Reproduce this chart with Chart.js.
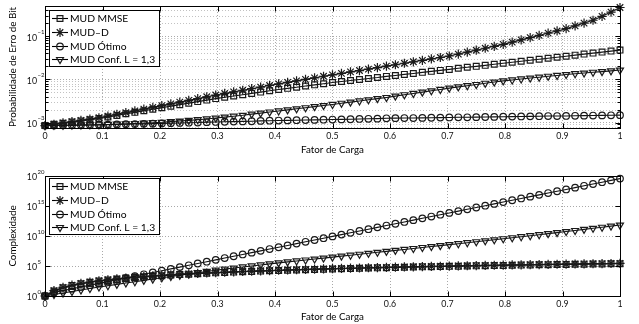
<!DOCTYPE html>
<html><head><meta charset="utf-8">
<script src="https://cdn.jsdelivr.net/npm/chart.js@4/dist/chart.umd.min.js"></script>
<style>
html,body{margin:0;padding:0;background:#fff;}
body{width:639px;height:324px;position:relative;overflow:hidden;}
#c1{position:absolute;left:0;top:0;}
#c2{position:absolute;left:0;top:160px;}
</style></head><body>
<canvas id="c1" width="639" height="160"></canvas>
<canvas id="c2" width="639" height="164"></canvas>
<script>
// ---------------- data ----------------
const loadFactor = [0, 0.0156, 0.0313, 0.0469, 0.0625, 0.0781, 0.0938, 0.1094, 0.125, 0.1406, 0.1563, 0.1719, 0.1875, 0.2031, 0.2188, 0.2344, 0.25, 0.2656, 0.2813, 0.2969, 0.3125, 0.3281, 0.3438, 0.3594, 0.375, 0.3906, 0.4063, 0.4219, 0.4375, 0.4531, 0.4688, 0.4844, 0.5, 0.5156, 0.5313, 0.5469, 0.5625, 0.5781, 0.5938, 0.6094, 0.625, 0.6406, 0.6563, 0.6719, 0.6875, 0.7031, 0.7188, 0.7344, 0.75, 0.7656, 0.7813, 0.7969, 0.8125, 0.8281, 0.8438, 0.8594, 0.875, 0.8906, 0.9063, 0.9219, 0.9375, 0.9531, 0.9688, 0.9844, 1];

const seriesNames = ['MUD MMSE', 'MUD\u2013D', 'MUD \u00D3timo', 'MUD Conf. L = 1,3'];

// Probabilidade de Erro de Bit (top)
const berMMSE = [8.51e-4, 9.06e-4, 9.64e-4, 1.03e-3, 1.09e-3, 1.16e-3, 1.24e-3, 1.34e-3, 1.46e-3, 1.59e-3, 1.72e-3, 1.87e-3, 2.03e-3, 2.21e-3, 2.39e-3, 2.59e-3, 2.81e-3, 3.05e-3, 3.30e-3, 3.58e-3, 3.84e-3, 4.11e-3, 4.41e-3, 4.72e-3, 5.06e-3, 5.42e-3, 5.81e-3, 6.18e-3, 6.58e-3, 7.00e-3, 7.45e-3, 7.93e-3, 8.43e-3, 8.89e-3, 9.40e-3, 9.91e-3, 1.05e-2, 1.10e-2, 1.17e-2, 1.23e-2, 1.30e-2, 1.37e-2, 1.45e-2, 1.53e-2, 1.61e-2, 1.70e-2, 1.80e-2, 1.90e-2, 2.00e-2, 2.11e-2, 2.23e-2, 2.36e-2, 2.49e-2, 2.62e-2, 2.77e-2, 2.92e-2, 3.09e-2, 3.26e-2, 3.44e-2, 3.63e-2, 3.84e-2, 4.05e-2, 4.28e-2, 4.51e-2, 4.76e-2];
const berMUDD = [8.51e-4, 9.12e-4, 9.77e-4, 1.05e-3, 1.12e-3, 1.20e-3, 1.29e-3, 1.41e-3, 1.55e-3, 1.70e-3, 1.86e-3, 2.04e-3, 2.24e-3, 2.46e-3, 2.70e-3, 2.97e-3, 3.26e-3, 3.58e-3, 3.94e-3, 4.33e-3, 4.71e-3, 5.13e-3, 5.59e-3, 6.08e-3, 6.62e-3, 7.21e-3, 7.85e-3, 8.51e-3, 9.23e-3, 1.00e-2, 1.08e-2, 1.18e-2, 1.27e-2, 1.37e-2, 1.49e-2, 1.60e-2, 1.73e-2, 1.87e-2, 2.02e-2, 2.18e-2, 2.36e-2, 2.55e-2, 2.75e-2, 2.97e-2, 3.21e-2, 3.47e-2, 3.85e-2, 4.27e-2, 4.73e-2, 5.25e-2, 5.82e-2, 6.46e-2, 7.28e-2, 8.20e-2, 9.25e-2, 0.104, 0.118, 0.132, 0.149, 0.173, 0.201, 0.234, 0.288, 0.362, 0.461];
const berOtimo = [8.51e-4, 8.55e-4, 8.61e-4, 8.67e-4, 8.71e-4, 8.77e-4, 8.83e-4, 8.91e-4, 8.99e-4, 9.10e-4, 9.20e-4, 9.31e-4, 9.42e-4, 9.53e-4, 9.64e-4, 9.77e-4, 9.91e-4, 1.00e-3, 1.02e-3, 1.03e-3, 1.04e-3, 1.05e-3, 1.06e-3, 1.07e-3, 1.09e-3, 1.10e-3, 1.11e-3, 1.12e-3, 1.13e-3, 1.14e-3, 1.15e-3, 1.16e-3, 1.17e-3, 1.18e-3, 1.19e-3, 1.21e-3, 1.22e-3, 1.23e-3, 1.25e-3, 1.26e-3, 1.27e-3, 1.27e-3, 1.28e-3, 1.29e-3, 1.30e-3, 1.31e-3, 1.32e-3, 1.32e-3, 1.33e-3, 1.34e-3, 1.35e-3, 1.36e-3, 1.37e-3, 1.38e-3, 1.39e-3, 1.40e-3, 1.41e-3, 1.41e-3, 1.42e-3, 1.43e-3, 1.44e-3, 1.45e-3, 1.46e-3, 1.47e-3, 1.48e-3];
const berConf = [8.51e-4, 8.57e-4, 8.63e-4, 8.69e-4, 8.75e-4, 8.81e-4, 8.87e-4, 9.02e-4, 9.16e-4, 9.31e-4, 9.46e-4, 9.68e-4, 9.91e-4, 1.01e-3, 1.05e-3, 1.08e-3, 1.12e-3, 1.16e-3, 1.21e-3, 1.27e-3, 1.33e-3, 1.40e-3, 1.47e-3, 1.56e-3, 1.65e-3, 1.75e-3, 1.85e-3, 1.96e-3, 2.08e-3, 2.20e-3, 2.33e-3, 2.47e-3, 2.62e-3, 2.79e-3, 2.97e-3, 3.16e-3, 3.36e-3, 3.57e-3, 3.80e-3, 4.08e-3, 4.39e-3, 4.71e-3, 5.06e-3, 5.43e-3, 5.83e-3, 6.27e-3, 6.68e-3, 7.13e-3, 7.60e-3, 8.11e-3, 8.65e-3, 9.23e-3, 9.68e-3, 1.02e-2, 1.07e-2, 1.12e-2, 1.18e-2, 1.23e-2, 1.29e-2, 1.35e-2, 1.40e-2, 1.46e-2, 1.51e-2, 1.57e-2, 1.64e-2];

// Complexidade (bottom)
const cxMMSE = [1, 7, 24, 58, 113, 195, 310, 460, 660, 900, 1200, 1560, 1980, 2470, 3040, 3690, 4420, 5250, 6170, 7200, 8340, 9580, 1.10e4, 1.24e4, 1.41e4, 1.58e4, 1.77e4, 1.98e4, 2.20e4, 2.43e4, 2.68e4, 2.95e4, 3.23e4, 3.54e4, 3.86e4, 4.20e4, 4.56e4, 4.94e4, 5.34e4, 5.76e4, 6.20e4, 6.67e4, 7.16e4, 7.67e4, 8.20e4, 8.76e4, 9.34e4, 9.95e4, 1.06e5, 1.13e5, 1.19e5, 1.27e5, 1.34e5, 1.42e5, 1.50e5, 1.58e5, 1.67e5, 1.76e5, 1.85e5, 1.94e5, 2.04e5, 2.14e5, 2.25e5, 2.36e5, 2.47e5];
const cxMUDD = [1, 8, 27, 64, 125, 216, 343, 512, 730, 1000, 1330, 1730, 2200, 2740, 3380, 4100, 4910, 5830, 6860, 8000, 9260, 1.06e4, 1.22e4, 1.38e4, 1.56e4, 1.76e4, 1.97e4, 2.20e4, 2.44e4, 2.70e4, 2.98e4, 3.28e4, 3.59e4, 3.93e4, 4.29e4, 4.67e4, 5.07e4, 5.49e4, 5.93e4, 6.40e4, 6.89e4, 7.41e4, 7.95e4, 8.52e4, 9.11e4, 9.73e4, 1.04e5, 1.11e5, 1.18e5, 1.25e5, 1.33e5, 1.41e5, 1.49e5, 1.57e5, 1.66e5, 1.76e5, 1.85e5, 1.95e5, 2.05e5, 2.16e5, 2.27e5, 2.38e5, 2.50e5, 2.62e5, 2.75e5];
const cxOtimo = [1, 4, 8, 16, 32, 64, 128, 256, 512, 1020, 2050, 4100, 8190, 1.64e4, 3.28e4, 6.55e4, 1.31e5, 2.62e5, 5.24e5, 1.05e6, 2.10e6, 4.19e6, 8.39e6, 1.68e7, 3.36e7, 6.71e7, 1.34e8, 2.68e8, 5.37e8, 1.07e9, 2.15e9, 4.29e9, 8.59e9, 1.72e10, 3.44e10, 6.87e10, 1.37e11, 2.75e11, 5.50e11, 1.10e12, 2.20e12, 4.40e12, 8.80e12, 1.76e13, 3.52e13, 7.04e13, 1.41e14, 2.81e14, 5.63e14, 1.13e15, 2.25e15, 4.50e15, 9.01e15, 1.80e16, 3.60e16, 7.21e16, 1.44e17, 2.88e17, 5.76e17, 1.15e18, 2.31e18, 4.61e18, 9.22e18, 1.84e19, 3.69e19];
const cxConf = [1, 1.78, 3.16, 5.62, 10, 17.8, 31.6, 52.5, 87.1, 145, 240, 398, 661, 1100, 1780, 2880, 4680, 7590, 1.23e4, 2.00e4, 3.02e4, 4.57e4, 6.92e4, 1.02e5, 1.51e5, 2.24e5, 3.31e5, 4.79e5, 6.92e5, 1.00e6, 1.45e6, 2.09e6, 3.02e6, 4.37e6, 6.31e6, 9.12e6, 1.32e7, 1.91e7, 2.75e7, 3.98e7, 5.75e7, 8.32e7, 1.20e8, 1.74e8, 2.51e8, 3.63e8, 5.25e8, 7.59e8, 1.10e9, 1.58e9, 2.34e9, 3.47e9, 5.13e9, 7.59e9, 1.12e10, 1.66e10, 2.46e10, 3.63e10, 5.50e10, 8.32e10, 1.26e11, 1.91e11, 2.88e11, 4.37e11, 6.61e11];

// ticks / labels
const xTickValues = [0, 0.1, 0.2, 0.3, 0.4, 0.5, 0.6, 0.7, 0.8, 0.9, 1];
const xTickLabels = ['0', '0.1', '0.2', '0.3', '0.4', '0.5', '0.6', '0.7', '0.8', '0.9', '1'];
const berYTicks = [1e-3, 1e-2, 1e-1];
const berYExponents = ['\u22123', '\u22122', '\u22121'];
const cxYTicks = [1, 1e5, 1e10, 1e15, 1e20];
const cxYExponents = ['0', '5', '10', '15', '20'];
const xTitle = 'Fator de Carga';
const berYTitle = 'Probabilidade de Erro de Bit';
const cxYTitle = 'Complexidade';

// ---------------- style ----------------
const FONT = 'Lato, "DejaVu Sans", sans-serif';
Chart.defaults.font.family = FONT;
const markerStyles = [
  {pointStyle: 'rect', radius: 4.1, rotation: 0},
  {pointStyle: 'star', radius: 4.6, rotation: 0},
  {pointStyle: 'circle', radius: 3.3, rotation: 0},
  {pointStyle: 'triangle', radius: 4.0, rotation: 180}
];

function makeDatasets(arrs) {
  return arrs.map((arr, i) => ({
    label: seriesNames[i],
    data: loadFactor.map((x, j) => ({x: x, y: arr[j]})),
    borderColor: '#111',
    borderWidth: 1.1,
    pointStyle: markerStyles[i].pointStyle,
    pointRadius: markerStyles[i].radius,
    pointRotation: markerStyles[i].rotation,
    pointBorderColor: '#1a1a1a',
    pointBackgroundColor: 'rgba(0,0,0,0)',
    pointBorderWidth: 1.2,
    pointHoverRadius: markerStyles[i].radius,
    tension: 0,
    fill: false,
    clip: false,
    order: 4 - i
  }));
}

function drawMarker(ctx, st, x, y) {
  ctx.save();
  ctx.strokeStyle = '#1a1a1a';
  ctx.fillStyle = 'rgba(0,0,0,0)';
  ctx.lineWidth = 1.2;
  if (Chart.helpers && Chart.helpers.drawPoint) {
    Chart.helpers.drawPoint(ctx, {pointStyle: st.pointStyle, rotation: st.rotation, radius: st.radius, borderWidth: 1.2}, x, y);
  }
  ctx.restore();
}

function legendPlugin(dy) {
  return {
    id: 'mlegend',
    afterDraw(chart) {
      const ctx = chart.ctx, a = chart.chartArea;
      const bx = Math.round(a.left + 4), by = Math.round(a.top + dy), bw = 110, bh = 56;
      ctx.save();
      ctx.fillStyle = '#fff';
      ctx.fillRect(bx, by, bw, bh);
      ctx.strokeStyle = '#000';
      ctx.lineWidth = 1;
      ctx.strokeRect(bx + 0.5, by + 0.5, bw, bh);
      seriesNames.forEach((n, i) => {
        const y = Math.round(by + 8 + i * 13.8) + 0.5;
        ctx.beginPath();
        ctx.moveTo(bx + 3, y);
        ctx.lineTo(bx + 19, y);
        ctx.strokeStyle = '#000';
        ctx.lineWidth = 1.1;
        ctx.stroke();
        drawMarker(ctx, markerStyles[i], bx + 11, y);
        ctx.fillStyle = '#000';
        ctx.font = '10.3px ' + FONT;
        ctx.textBaseline = 'middle';
        ctx.textAlign = 'left';
        ctx.fillText(n, bx + 21, y);
      });
      ctx.restore();
    }
  };
}

function framePlugin(yTicks, yExps, withMinor) {
  return {
    id: 'frame',
    beforeDatasetsDraw(chart) {
      if (!withMinor) return;
      const ys = chart.scales.y, a = chart.chartArea, ctx = chart.ctx;
      ctx.save();
      ctx.strokeStyle = '#c2c2c2';
      ctx.lineWidth = 1;
      ctx.setLineDash([1, 2]);
      const decs = [yTicks[0] / 10].concat(yTicks);
      for (const d of decs) for (let m = 2; m <= 9; m++) {
        const v = m * d;
        if (v <= ys.min || v >= ys.max) continue;
        const py = Math.round(ys.getPixelForValue(v)) + 0.5;
        ctx.beginPath(); ctx.moveTo(a.left, py); ctx.lineTo(a.right, py); ctx.stroke();
      }
      ctx.restore();
    },
    afterDatasetsDraw(chart) {
      const ctx = chart.ctx, a = chart.chartArea, xs = chart.scales.x, ys = chart.scales.y;
      const L = Math.round(a.left) + 0.5, R = Math.round(a.right) + 0.5, T = Math.round(a.top) + 0.5, B = Math.round(a.bottom) + 0.5;
      ctx.save();
      ctx.strokeStyle = '#000';
      ctx.lineWidth = 1;
      ctx.setLineDash([]);
      ctx.strokeRect(L, T, R - L, B - T);
      ctx.beginPath();
      xTickValues.forEach(v => {
        const px = Math.round(xs.getPixelForValue(v)) + 0.5;
        ctx.moveTo(px, B); ctx.lineTo(px, B - 5);
        ctx.moveTo(px, T); ctx.lineTo(px, T + 5);
      });
      yTicks.forEach(v => {
        const py = Math.round(ys.getPixelForValue(v)) + 0.5;
        ctx.moveTo(L, py); ctx.lineTo(L + 5, py);
        ctx.moveTo(R, py); ctx.lineTo(R - 5, py);
      });
      if (withMinor) {
        const decs = [yTicks[0] / 10].concat(yTicks);
        for (const d of decs) for (let m = 2; m <= 9; m++) {
          const v = m * d;
          if (v <= ys.min || v >= ys.max) continue;
          const py = Math.round(ys.getPixelForValue(v)) + 0.5;
          ctx.moveTo(L, py); ctx.lineTo(L + 3, py);
          ctx.moveTo(R, py); ctx.lineTo(R - 3, py);
        }
      }
      ctx.stroke();
      ctx.restore();
    },
    afterDraw(chart) {
      const ctx = chart.ctx, ys = chart.scales.y;
      ctx.save();
      ctx.fillStyle = '#111';
      ctx.textBaseline = 'middle';
      yTicks.forEach((v, i) => {
        const py = ys.getPixelForValue(v);
        ctx.font = '8.8px ' + FONT;
        ctx.textAlign = 'right';
        ctx.fillText('10', 37, py + 1.5);
        ctx.font = '6px ' + FONT;
        ctx.textAlign = 'left';
        ctx.fillText(yExps[i], 37.5, py - 4);
      });
      ctx.restore();
    }
  };
}

function makeOptions(yMin, yMax, yTicks, yTitle, padTop, xHeight, xTitlePad) {
  return {
    responsive: false,
    devicePixelRatio: 1,
    animation: false,
    events: [],
    layout: {padding: {left: 0, right: 19, top: padTop, bottom: 0}},
    plugins: {legend: {display: false}, tooltip: {enabled: false}},
    scales: {
      x: {
        type: 'linear',
        min: 0, max: 1,
        afterBuildTicks: s => { s.ticks = xTickValues.map(v => ({value: v})); },
        afterFit: s => { s.height = xHeight; },
        ticks: {
          callback: (v, i) => xTickLabels[i],
          font: {size: 8.8, family: FONT},
          color: '#111',
          padding: 3,
          maxRotation: 0,
          autoSkip: false
        },
        grid: {color: '#a9a9a9', lineWidth: 1, drawTicks: false},
        border: {display: false, dash: [1, 2]},
        title: {display: true, text: xTitle, font: {size: 9.8, family: FONT}, color: '#000', padding: {top: 0, bottom: xTitlePad}}
      },
      y: {
        type: 'logarithmic',
        min: yMin, max: yMax,
        afterBuildTicks: s => { s.ticks = yTicks.map(v => ({value: v, major: true})); },
        afterFit: s => { s.width = 45; },
        ticks: {display: false},
        grid: {color: '#a9a9a9', lineWidth: 1, drawTicks: false},
        border: {display: false, dash: [1, 2]},
        title: {display: true, text: yTitle, font: {size: 9.8, family: FONT}, color: '#000', padding: {top: 7, bottom: 0}}
      }
    }
  };
}

new Chart(document.getElementById('c1'), {
  type: 'line',
  data: {datasets: makeDatasets([berMMSE, berMUDD, berOtimo, berConf])},
  options: makeOptions(7.46e-4, 0.5, berYTicks, berYTitle, 6, 32, 4),
  plugins: [framePlugin(berYTicks, berYExponents, true), legendPlugin(4)]
});

new Chart(document.getElementById('c2'), {
  type: 'line',
  data: {datasets: makeDatasets([cxMMSE, cxMUDD, cxOtimo, cxConf])},
  options: makeOptions(1, 1e20, cxYTicks, cxYTitle, 16, 28, 1),
  plugins: [framePlugin(cxYTicks, cxYExponents, false), legendPlugin(2)]
});
</script>
</body></html>
